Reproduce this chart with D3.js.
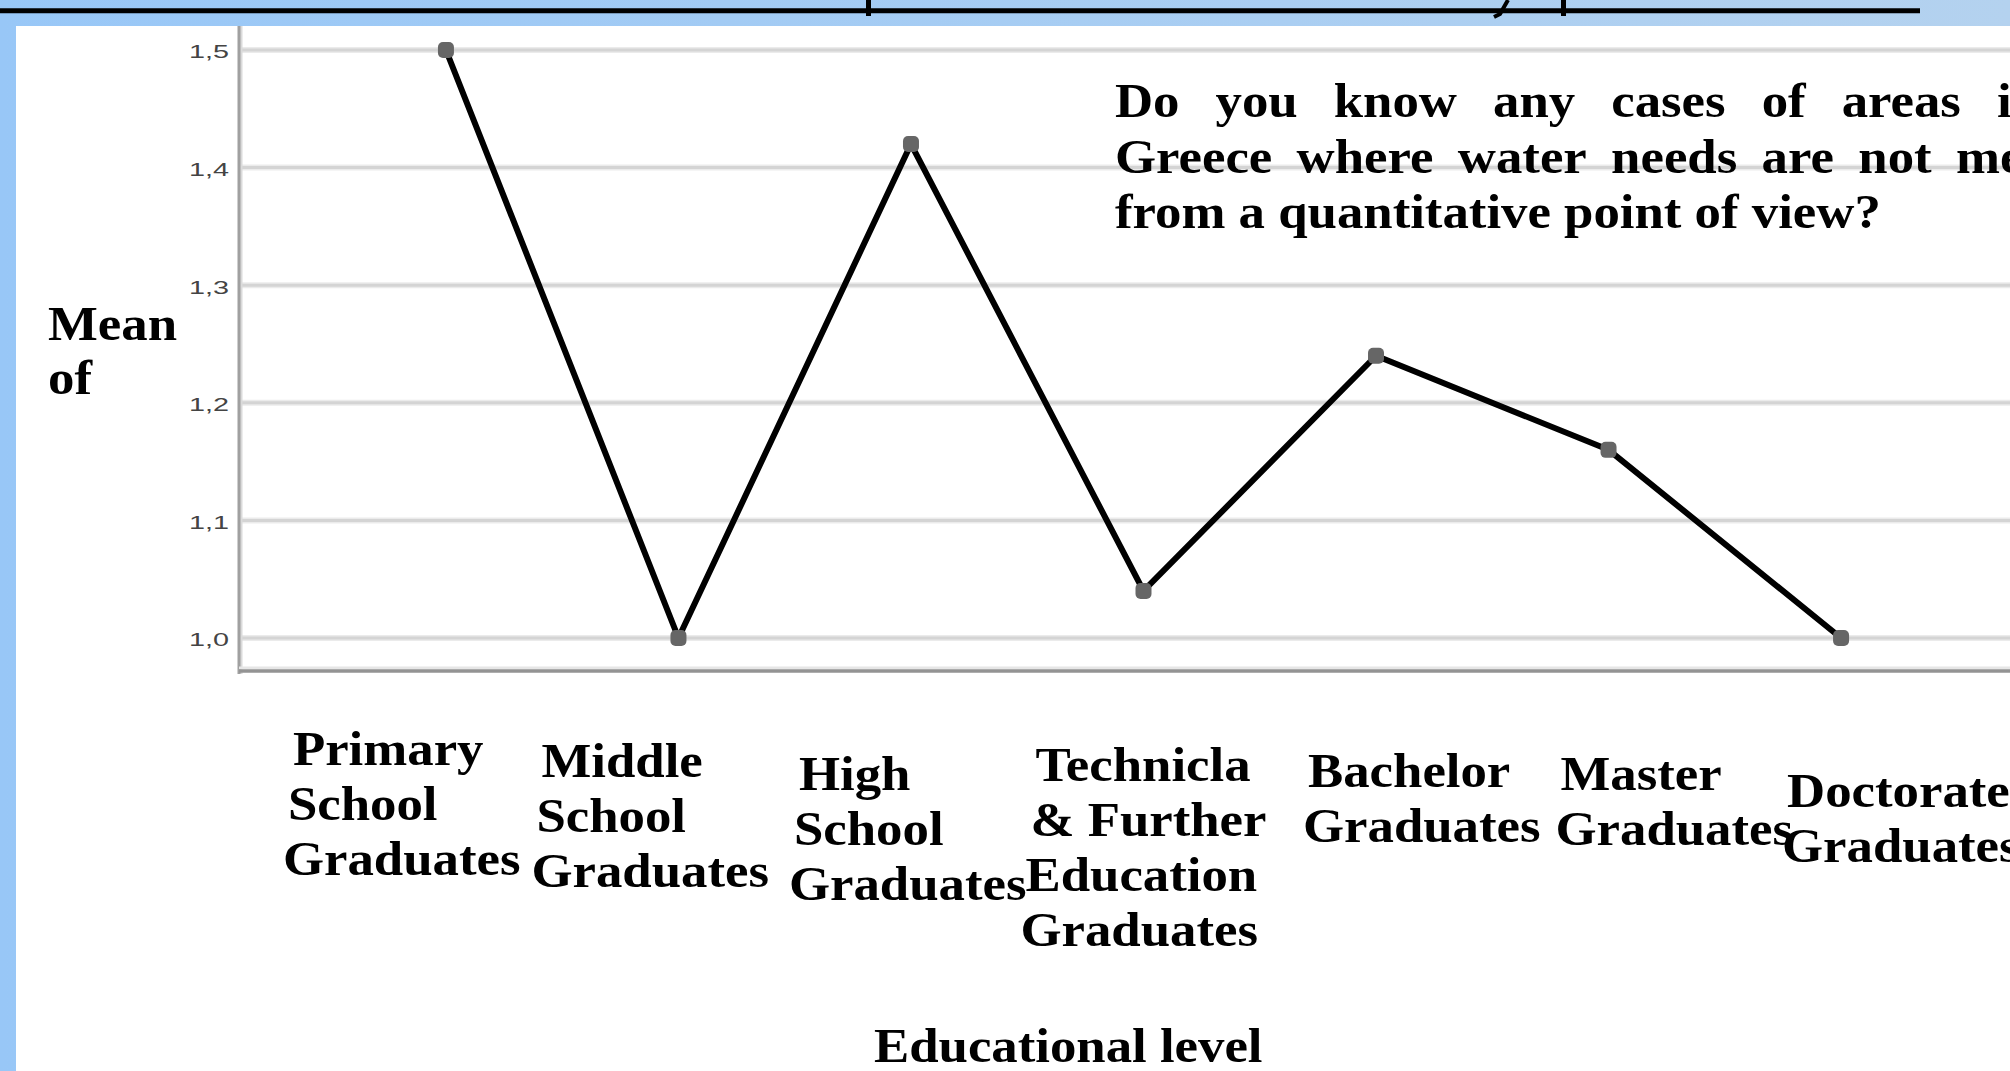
<!DOCTYPE html>
<html>
<head>
<meta charset="utf-8">
<script src="https://cdn.jsdelivr.net/npm/d3@7"></script>
<style>
  html, body { margin: 0; padding: 0; background: #ffffff; }
  svg { display: block; }
</style>
</head>
<body>
<svg id="chart" width="2010" height="1071"></svg>
<script>
// ---------- data ----------
const categories = [
  "Primary School Graduates",
  "Middle School Graduates",
  "High School Graduates",
  "Technicla & Further Education Graduates",
  "Bachelor Graduates",
  "Master Graduates",
  "Doctorate Graduates"
];
const categoryLines = [
  ["Primary", "School", "Graduates"],
  ["Middle", "School", "Graduates"],
  ["High", "School", "Graduates"],
  ["Technicla", "& Further", "Education", "Graduates"],
  ["Bachelor", "Graduates"],
  ["Master", "Graduates"],
  ["Doctorate", "Graduates"]
];
const means = [1.50, 1.00, 1.42, 1.04, 1.24, 1.16, 1.00];
const yTicks = [1.0, 1.1, 1.2, 1.3, 1.4, 1.5];
const yTickLabels = ["1,0", "1,1", "1,2", "1,3", "1,4", "1,5"];
const yTitleLines = ["Mean", "of"];
const xTitle = "Educational level";
const questionLines = [
  "Do you know any cases of areas in",
  "Greece where water needs are not met",
  "from a quantitative point of view?"
];

// ---------- layout ----------
const W = 2010, H = 1071;
const plotLeft = 239, plotRight = 2048, plotTop = 26, plotBottom = 671;
const serif = "'Liberation Serif', 'Times New Roman', serif";
const FS = 48, SX = 1.1;
// label layout: [dx from point, first baseline]
const labelLayout = [
  [-153, 765], [-137, 777], [-112, 790], [-108, 781],
  [-68, 787], [-48, 790], [-54, 807]
];

const svg = d3.select("#chart");
const defs = svg.append("defs");
const grad = defs.append("linearGradient").attr("id", "bg").attr("x1", "0").attr("x2", "1").attr("y1", "0").attr("y2", "0");
grad.append("stop").attr("offset", "0").attr("stop-color", "#98c7f7");
grad.append("stop").attr("offset", "1").attr("stop-color", "#b4d2ef");

svg.append("rect").attr("width", W).attr("height", H).attr("fill", "url(#bg)");
svg.append("rect").attr("x", 16).attr("y", 26).attr("width", W - 16).attr("height", H - 26).attr("fill", "#ffffff");

// clipped heading underline at top
svg.append("line").attr("x1", 0).attr("x2", 1920).attr("y1", 10.8).attr("y2", 10.8)
  .attr("stroke", "#000").attr("stroke-width", 5);
[866, 1561].forEach(x => svg.append("rect").attr("x", x).attr("y", 0).attr("width", 5).attr("height", 16).attr("fill", "#000"));
svg.append("path").attr("d", "M1508,0 L1500,14 L1494,17").attr("fill", "none").attr("stroke", "#000").attr("stroke-width", 4);

// ---------- scales ----------
const x = d3.scalePoint().domain(categories).range([plotLeft, plotRight]).padding(0.89);
const y = d3.scaleLinear().domain([1.0, 1.5]).range([638, 50]);

// gridlines
const grid = svg.append("g");
grid.selectAll("line.g2").data(yTicks).join("line")
  .attr("x1", plotLeft).attr("x2", W).attr("y1", d => y(d)).attr("y2", d => y(d))
  .attr("stroke", "#ebebeb").attr("stroke-width", 6);
grid.selectAll("line.g1").data(yTicks).join("line")
  .attr("x1", plotLeft).attr("x2", W).attr("y1", d => y(d)).attr("y2", d => y(d))
  .attr("stroke", "#d4d4d4").attr("stroke-width", 3);

// axes lines
svg.append("line").attr("x1", plotLeft + 2).attr("x2", plotLeft + 2).attr("y1", plotTop).attr("y2", plotBottom + 3)
  .attr("stroke", "#dadada").attr("stroke-width", 3);
svg.append("line").attr("x1", plotLeft).attr("x2", plotLeft).attr("y1", plotTop).attr("y2", plotBottom + 3)
  .attr("stroke", "#a0a0a0").attr("stroke-width", 3);
svg.append("line").attr("x1", plotLeft).attr("x2", W).attr("y1", plotBottom - 3).attr("y2", plotBottom - 3)
  .attr("stroke", "#e6e6e6").attr("stroke-width", 3);
svg.append("line").attr("x1", plotLeft).attr("x2", W).attr("y1", plotBottom).attr("y2", plotBottom)
  .attr("stroke", "#939393").attr("stroke-width", 3.5);

// y tick labels via axis
const yAxis = d3.axisLeft(y).tickValues(yTicks).tickFormat((d, i) => yTickLabels[i]).tickSize(0).tickPadding(10);
const ya = svg.append("g").attr("transform", `translate(${plotLeft},0)`).call(yAxis);
ya.select(".domain").remove();
ya.selectAll("text")
  .attr("font-family", "'Liberation Sans', Arial, sans-serif")
  .attr("font-size", 19).attr("fill", "#444")
  .attr("textLength", 40).attr("lengthAdjust", "spacingAndGlyphs")
  .attr("dy", "0.42em");

// line + markers
const line = d3.line().x((d, i) => x(categories[i])).y(d => y(d));
svg.append("path").datum(means).attr("d", line)
  .attr("fill", "none").attr("stroke", "#000").attr("stroke-width", 6).attr("stroke-linejoin", "round");
svg.selectAll("rect.mk").data(means).join("rect").attr("class", "mk")
  .attr("x", (d, i) => x(categories[i]) - 8).attr("y", d => y(d) - 8)
  .attr("width", 16).attr("height", 16).attr("rx", 5)
  .attr("fill", "#666");

// helper for stretched serif text
function sText(px, py, str, anchor) {
  const g = svg.append("g").attr("transform", `translate(${px},${py}) scale(${SX},1)`);
  return g.append("text").attr("x", 0).attr("y", 0)
    .attr("font-family", serif).attr("font-weight", "bold").attr("font-size", FS)
    .attr("fill", "#000").attr("text-anchor", anchor || "start").text(str);
}

// y title
yTitleLines.forEach((t, i) => sText(48, 340 + i * 54, t));

// category labels
categoryLines.forEach((lines, ci) => {
  const [dx, by] = labelLayout[ci];
  const px = x(categories[ci]) + dx;
  lines.forEach((t, li) => sText(px - li * 5, by + li * 55, t));
});

// x title
sText(874, 1062, xTitle);

// question text (justified)
const qx0 = 1115, qx1 = 2041;
questionLines.forEach((ln, li) => {
  const by = 117 + li * 55.5;
  const g = svg.append("g").attr("transform", `translate(${qx0},${by}) scale(${SX},1)`);
  const t = g.append("text").attr("font-family", serif).attr("font-weight", "bold").attr("font-size", FS).attr("fill", "#000");
  const words = ln.split(" ");
  if (li === questionLines.length - 1) { t.text(ln); return; }
  const spans = words.map(w => t.append("tspan").attr("y", 0).text(w));
  const widths = spans.map(s => s.node().getComputedTextLength());
  const target = (qx1 - qx0) / SX;
  const gap = (target - d3.sum(widths)) / (words.length - 1);
  let cx = 0;
  spans.forEach((s, i) => { s.attr("x", cx); cx += widths[i] + gap; });
});
</script>
</body>
</html>
